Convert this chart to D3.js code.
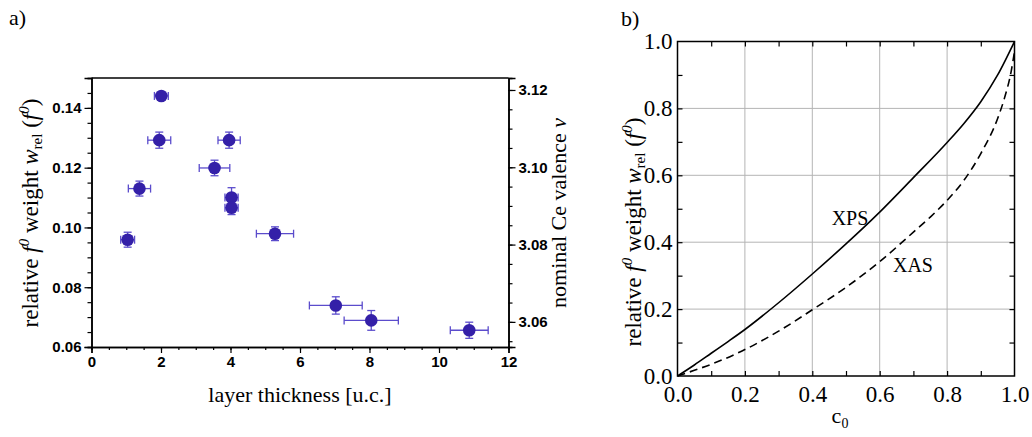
<!DOCTYPE html>
<html>
<head>
<meta charset="utf-8">
<script src="https://cdn.jsdelivr.net/npm/d3@7"></script>
<style>
body { margin: 0; background: #fff; }
</style>
</head>
<body>
<script>
// ---- panel a) data (read off the picture)
const thickness    = [1.04, 1.38, 2.01, 1.95, 3.96, 3.54, 4.03, 4.03, 5.28, 7.03, 8.05, 10.87]
const thicknessErr = [0.20, 0.32, 0.20, 0.33, 0.32, 0.44, 0.19, 0.19, 0.535, 0.76, 0.78, 0.545]
const weight       = [0.0959, 0.1130, 0.1440, 0.1292, 0.1292, 0.1199, 0.1100, 0.1066, 0.0979, 0.0739, 0.0689, 0.0656]
const weightErr    = [0.0025, 0.0025, 0.0010, 0.0027, 0.0027, 0.0026, 0.0033, 0.0023, 0.0023, 0.0029, 0.0033, 0.0027]
const xTicksA   = [0, 2, 4, 6, 8, 10, 12]
const yTicksA   = [0.06, 0.08, 0.10, 0.12, 0.14]
const vTicksA   = [3.06, 3.08, 3.10, 3.12]

// ---- panel b) curves
const c0Xps = [0, 0.05, 0.1, 0.15, 0.2, 0.3, 0.4, 0.5, 0.6, 0.7, 0.8, 0.85, 0.9, 0.95, 1.0]
const xps   = [0, 0.033, 0.068, 0.103, 0.139, 0.219, 0.305, 0.395, 0.49, 0.593, 0.698, 0.755, 0.82, 0.90, 1.0]
const c0Xas = [0, 0.05, 0.1, 0.2, 0.3, 0.4, 0.5, 0.6, 0.7, 0.75, 0.8, 0.85, 0.9, 0.95, 0.97, 0.99, 1.0]
const xas   = [0, 0.017, 0.035, 0.079, 0.134, 0.198, 0.265, 0.342, 0.43, 0.475, 0.525, 0.585, 0.665, 0.77, 0.83, 0.91, 0.97]
const ticksB = [0, 0.2, 0.4, 0.6, 0.8, 1.0]

const serif = "'Liberation Serif', 'Times New Roman', serif"
const sans = "'Liberation Sans', Arial, sans-serif"
const pointColor = '#3420a8'
const errColor = '#5b4ccc'

const svg = d3.select("body").append("svg")
    .attr("width", 1032)
    .attr("height", 437)
    .style('display', 'block')

// ===================== panel a =====================
const xA = d3.scaleLinear().domain([0, 12]).range([91.5, 508.5])
const yA = d3.scaleLinear().domain([0.06, 0.15]).range([347, 78])
const vA = d3.scaleLinear().domain([3.0535, 3.1231]).range([347, 78])

const gA = svg.append('g')

// frame top line
gA.append('line')
    .attr('x1', xA(0)).attr('x2', xA(12))
    .attr('y1', yA(0.15)).attr('y2', yA(0.15))
    .style('stroke', '#000').style('stroke-width', 1.5)

function styleAxisA(g, minor){
    g.attr('font-family', sans)
    g.select('.domain').style('stroke', '#000').style('stroke-width', 1.5)
    g.selectAll('line').style('stroke', '#000').style('stroke-width', 1.2)
    if(!minor){
        g.selectAll('text')
            .style('font-family', sans)
            .style('font-weight', 'bold')
            .style('font-size', '15px')
            .style('fill', '#000')
    }
}

// minor ticks
gA.append('g')
    .attr('transform', `translate(0,${yA(0.06)})`)
    .call(d3.axisBottom(xA).tickValues(d3.range(0, 12.01, 0.5)).tickSize(3).tickFormat(''))
    .call(g => styleAxisA(g, true))
gA.append('g')
    .attr('transform', `translate(${xA(0)},0)`)
    .call(d3.axisLeft(yA).tickValues(d3.range(0.06, 0.1501, 0.005)).tickSize(4).tickFormat(''))
    .call(g => styleAxisA(g, true))
gA.append('g')
    .attr('transform', `translate(${xA(12)},0)`)
    .call(d3.axisRight(vA).tickValues(d3.range(3.055, 3.1231, 0.005)).tickSize(4).tickFormat(''))
    .call(g => styleAxisA(g, true))

// major ticks
gA.append('g')
    .attr('transform', `translate(0,${yA(0.06)})`)
    .call(d3.axisBottom(xA).tickValues(xTicksA).tickSize(6).tickPadding(3).tickFormat(d3.format('d')))
    .call(g => styleAxisA(g, false))
gA.append('g')
    .attr('transform', `translate(${xA(0)},0)`)
    .call(d3.axisLeft(yA).tickValues(yTicksA).tickSize(7).tickPadding(3).tickFormat(d3.format('.2f')))
    .call(g => styleAxisA(g, false))
gA.append('g')
    .attr('transform', `translate(${xA(12)},0)`)
    .call(d3.axisRight(vA).tickValues(vTicksA).tickSize(7).tickPadding(3).tickFormat(d3.format('.2f')))
    .call(g => styleAxisA(g, false))

// error bars
const ptsA = thickness.map((t, i) => ({x: t, dx: thicknessErr[i], y: weight[i], dy: weightErr[i]}))
const err = gA.append('g').style('stroke', errColor).style('stroke-width', 1.3)
ptsA.forEach(function(d){
    const cx = xA(d.x), cy = yA(d.y)
    const x1 = xA(d.x - d.dx), x2 = xA(d.x + d.dx)
    const y1 = yA(d.y - d.dy), y2 = yA(d.y + d.dy)
    err.append('line').attr('x1', x1).attr('x2', x2).attr('y1', cy).attr('y2', cy)
    err.append('line').attr('x1', x1).attr('x2', x1).attr('y1', cy - 4).attr('y2', cy + 4)
    err.append('line').attr('x1', x2).attr('x2', x2).attr('y1', cy - 4).attr('y2', cy + 4)
    err.append('line').attr('x1', cx).attr('x2', cx).attr('y1', y1).attr('y2', y2)
    err.append('line').attr('x1', cx - 4).attr('x2', cx + 4).attr('y1', y1).attr('y2', y1)
    err.append('line').attr('x1', cx - 4).attr('x2', cx + 4).attr('y1', y2).attr('y2', y2)
})

gA.selectAll('circle.pt')
    .data(ptsA)
    .enter()
    .append('circle')
    .attr('class', 'pt')
    .attr('cx', d => xA(d.x))
    .attr('cy', d => yA(d.y))
    .attr('r', 6.3)
    .style('fill', pointColor)

// titles
gA.append('text')
    .attr('x', xA(6)).attr('y', 402)
    .attr('text-anchor', 'middle')
    .style('font-family', serif).style('font-size', '22px')
    .text('layer thickness [u.c.]')

function weightTitle(g, x, y){
    const t = g.append('text')
        .attr('transform', `translate(${x},${y}) rotate(-90)`)
        .attr('text-anchor', 'middle')
        .style('font-family', serif).style('font-size', '23px')
    t.append('tspan').text('relative ')
    t.append('tspan').style('font-style', 'italic').text('f')
    t.append('tspan').style('font-style', 'italic').style('font-size', '15px').attr('dy', -9).text('0')
    t.append('tspan').attr('dy', 9).text(' weight ')
    t.append('tspan').style('font-style', 'italic').text('w')
    t.append('tspan').style('font-size', '15px').attr('dy', 4).text('rel')
    t.append('tspan').attr('dy', -4).text(' (')
    t.append('tspan').style('font-style', 'italic').text('f')
    t.append('tspan').style('font-style', 'italic').style('font-size', '15px').attr('dy', -9).text('0')
    t.append('tspan').attr('dy', 9).text(')')
    return t
}
weightTitle(gA, 38, 213)

const vt = gA.append('text')
    .attr('transform', `translate(566,213) rotate(-90)`)
    .attr('text-anchor', 'middle')
    .style('font-family', serif).style('font-size', '22px')
vt.append('tspan').text('nominal Ce valence ')
vt.append('tspan').style('font-style', 'italic').text('ν')

svg.append('text')
    .attr('x', 9).attr('y', 25)
    .style('font-family', serif).style('font-size', '22px')
    .text('a)')

// ===================== panel b =====================
const xB = d3.scaleLinear().domain([0, 1]).range([677.5, 1014.5])
const yB = d3.scaleLinear().domain([0, 1]).range([376, 41.5])
const gB = svg.append('g')

// grid
gB.selectAll('line.gx')
    .data(ticksB.slice(1, -1))
    .enter().append('line')
    .attr('x1', d => xB(d)).attr('x2', d => xB(d))
    .attr('y1', yB(0)).attr('y2', yB(1))
    .style('stroke', '#b4b4b4').style('stroke-width', 1)
gB.selectAll('line.gy')
    .data(ticksB.slice(1, -1))
    .enter().append('line')
    .attr('y1', d => yB(d)).attr('y2', d => yB(d))
    .attr('x1', xB(0)).attr('x2', xB(1))
    .style('stroke', '#b4b4b4').style('stroke-width', 1)

// inner ticks on all four sides
const inner = d3.range(0.1, 0.95, 0.1)
function innerTicks(axis, tr){
    gB.append('g')
        .attr('transform', tr)
        .call(axis.tickValues(inner).tickSize(-5).tickFormat(''))
        .call(g => g.select('.domain').remove())
        .call(g => g.selectAll('line').style('stroke', '#000').style('stroke-width', 1.2))
}
innerTicks(d3.axisBottom(xB), `translate(0,${yB(0)})`)
innerTicks(d3.axisTop(xB), `translate(0,${yB(1)})`)
innerTicks(d3.axisLeft(yB), `translate(${xB(0)},0)`)
innerTicks(d3.axisRight(yB), `translate(${xB(1)},0)`)

gB.append('rect')
    .attr('x', xB(0)).attr('y', yB(1))
    .attr('width', xB(1) - xB(0)).attr('height', yB(0) - yB(1))
    .style('fill', 'none').style('stroke', '#000').style('stroke-width', 1.5)

// tick labels
gB.append('g')
    .attr('transform', `translate(0,${yB(0)})`)
    .attr('font-family', serif)
    .call(d3.axisBottom(xB).tickValues(ticksB).tickSize(0).tickPadding(10).tickFormat(d3.format('.1f')))
    .call(g => g.select('.domain').remove())
    .call(g => g.selectAll('text').style('font-family', serif).style('font-size', '23px').style('fill', '#000'))
gB.append('g')
    .attr('transform', `translate(${xB(0)},0)`)
    .attr('font-family', serif)
    .call(d3.axisLeft(yB).tickValues(ticksB).tickSize(0).tickPadding(5).tickFormat(d3.format('.1f')))
    .call(g => g.select('.domain').remove())
    .call(g => g.selectAll('text').style('font-family', serif).style('font-size', '23px').style('fill', '#000'))

const line = d3.line()
    .x(d => xB(d[0]))
    .y(d => yB(d[1]))
    .curve(d3.curveMonotoneX)

gB.append('path')
    .datum(c0Xps.map((c, i) => [c, xps[i]]))
    .attr('d', line)
    .style('fill', 'none').style('stroke', '#000').style('stroke-width', 1.6)

gB.append('path')
    .datum(c0Xas.map((c, i) => [c, xas[i]]))
    .attr('d', line)
    .style('fill', 'none').style('stroke', '#000').style('stroke-width', 1.6)
    .style('stroke-dasharray', '8,5')

gB.append('text')
    .attr('x', 850).attr('y', 225)
    .attr('text-anchor', 'middle')
    .style('font-family', serif).style('font-size', '20px')
    .text('XPS')
gB.append('text')
    .attr('x', 913).attr('y', 272)
    .attr('text-anchor', 'middle')
    .style('font-family', serif).style('font-size', '20px')
    .text('XAS')

const ct = gB.append('text')
    .attr('x', 840).attr('y', 423)
    .attr('text-anchor', 'middle')
    .style('font-family', serif).style('font-size', '22px')
ct.append('tspan').text('c')
ct.append('tspan').style('font-size', '14px').attr('dy', 5).text('0')

// right panel y title is partly cut at the panel's left edge in the original
svg.append('defs').append('clipPath')
    .attr('id', 'clipB')
    .append('rect')
    .attr('x', 621).attr('y', 0).attr('width', 411).attr('height', 437)
const titleB = gB.append('g').attr('clip-path', 'url(#clipB)')
weightTitle(titleB, 641, 232)

svg.append('text')
    .attr('x', 621).attr('y', 26)
    .style('font-family', serif).style('font-size', '22px')
    .text('b)')
</script>
</body>
</html>
